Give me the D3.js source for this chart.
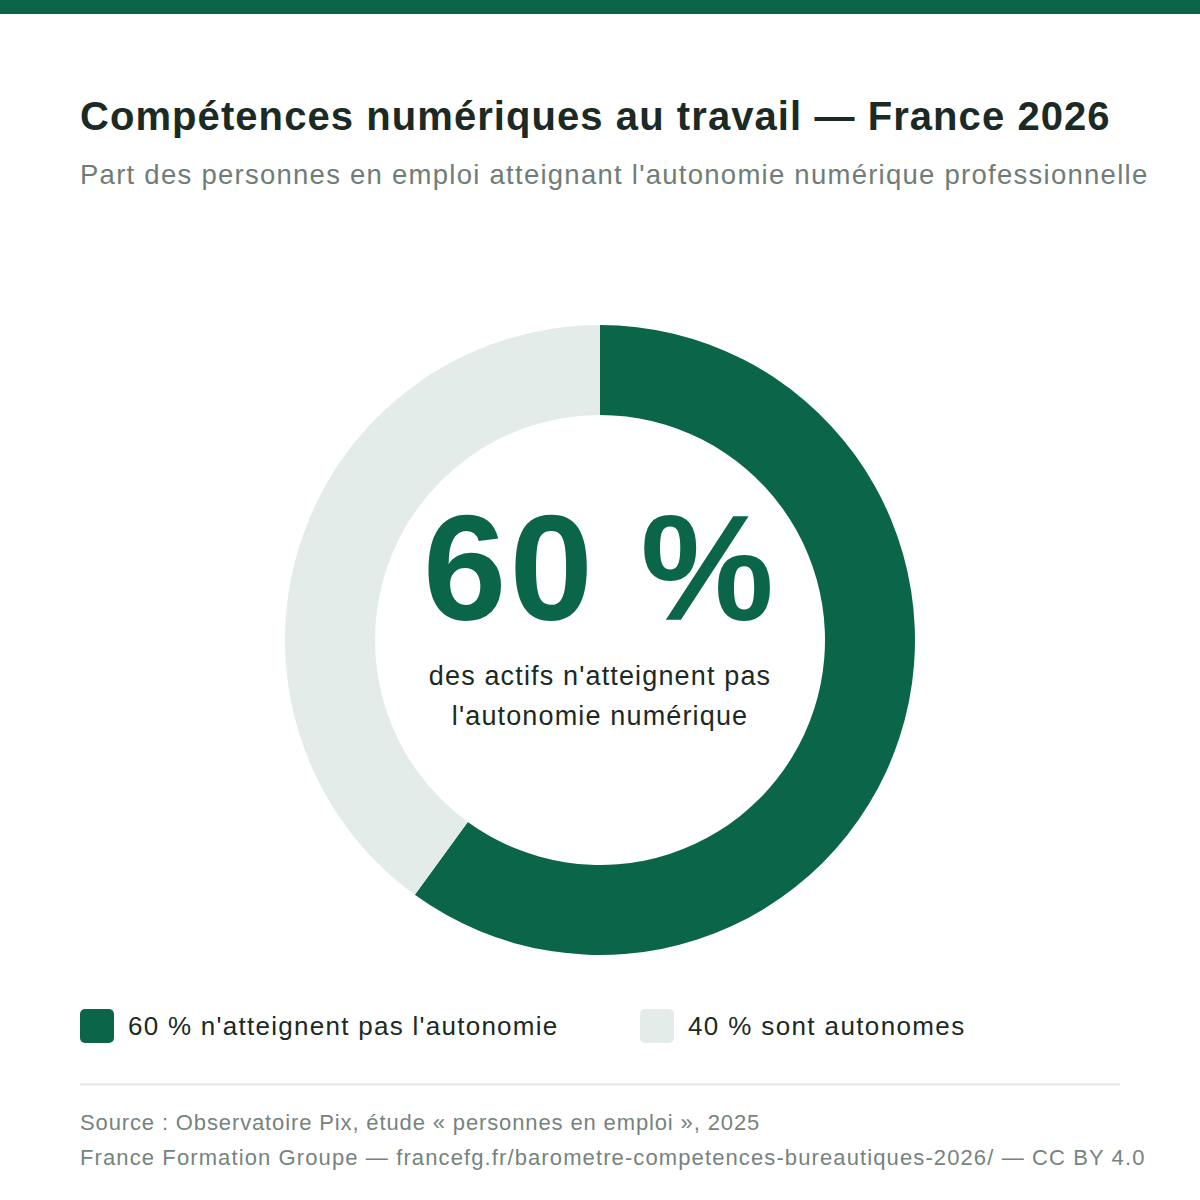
<!DOCTYPE html>
<html><head><meta charset="utf-8">
<script src="https://cdn.jsdelivr.net/npm/d3@7"></script>
<style>html,body{margin:0;padding:0;background:#fff;}svg{display:block;font-family:"Liberation Sans",Arial,Helvetica,sans-serif;}</style>
</head><body>
<script>
const categories = ["n'atteignent pas l'autonomie", "sont autonomes"];
const values = [60, 40];
const legendLabels = ["60 % n'atteignent pas l'autonomie", "40 % sont autonomes"];
const colors = ["#0b6649", "#e3ece8"];

const W = 1200, H = 1200;
const svg = d3.select("body").append("svg").attr("width", W).attr("height", H);
svg.append("rect").attr("width", W).attr("height", H).attr("fill", "#fff");
svg.append("rect").attr("x", 0).attr("y", 0).attr("width", W).attr("height", 14).attr("fill", "#0b6649");

svg.append("text").attr("x", 80).attr("y", 130).attr("font-size", 40).attr("font-weight", 700)
  .attr("letter-spacing", 1.07).attr("fill", "#1b2a24").text("Compétences numériques au travail — France 2026");
svg.append("text").attr("x", 80).attr("y", 184).attr("font-size", 27.5).attr("letter-spacing", 1.26)
  .attr("fill", "#6f7d77").text("Part des personnes en emploi atteignant l'autonomie numérique professionnelle");

const cx = 600, cy = 640;
const pie = d3.pie().sort(null).value(d => d)(values);
const arc = d3.arc().innerRadius(225).outerRadius(315);
const g = svg.append("g").attr("transform", `translate(${cx},${cy})`);
g.selectAll("path").data(pie).join("path").attr("d", arc).attr("fill", (d, i) => colors[i]);

g.append("text").attr("x", 0).attr("y", -20).attr("text-anchor", "middle").attr("font-size", 150)
  .attr("font-weight", 700).attr("letter-spacing", 3).attr("fill", "#0b6649").text(values[0] + " %");
g.append("text").attr("x", 0).attr("y", 45).attr("text-anchor", "middle").attr("font-size", 27)
  .attr("letter-spacing", 1.15).attr("fill", "#1b2a24").text("des actifs n'atteignent pas");
g.append("text").attr("x", 0).attr("y", 85).attr("text-anchor", "middle").attr("font-size", 27)
  .attr("letter-spacing", 1.15).attr("fill", "#1b2a24").text("l'autonomie numérique");

const legX = [80, 640];
const legLS = [1.27, 1.37];
legendLabels.forEach((t, i) => {
  svg.append("rect").attr("x", legX[i]).attr("y", 1009).attr("width", 34).attr("height", 34).attr("rx", 5)
    .attr("fill", colors[i]);
  svg.append("text").attr("x", legX[i] + 48).attr("y", 1035).attr("font-size", 26)
    .attr("letter-spacing", legLS[i]).attr("fill", "#1b2a24").text(t);
});

svg.append("line").attr("x1", 80).attr("x2", 1120).attr("y1", 1084.5).attr("y2", 1084.5)
  .attr("stroke", "#e2e8e5").attr("stroke-width", 2);
svg.append("text").attr("x", 80).attr("y", 1130).attr("font-size", 22).attr("letter-spacing", 0.87)
  .attr("fill", "#76837e").text("Source : Observatoire Pix, étude « personnes en emploi », 2025");
svg.append("text").attr("x", 80).attr("y", 1165).attr("font-size", 22).attr("letter-spacing", 1.11)
  .attr("fill", "#76837e").text("France Formation Groupe — francefg.fr/barometre-competences-bureautiques-2026/ — CC BY 4.0");
</script>
</body></html>
